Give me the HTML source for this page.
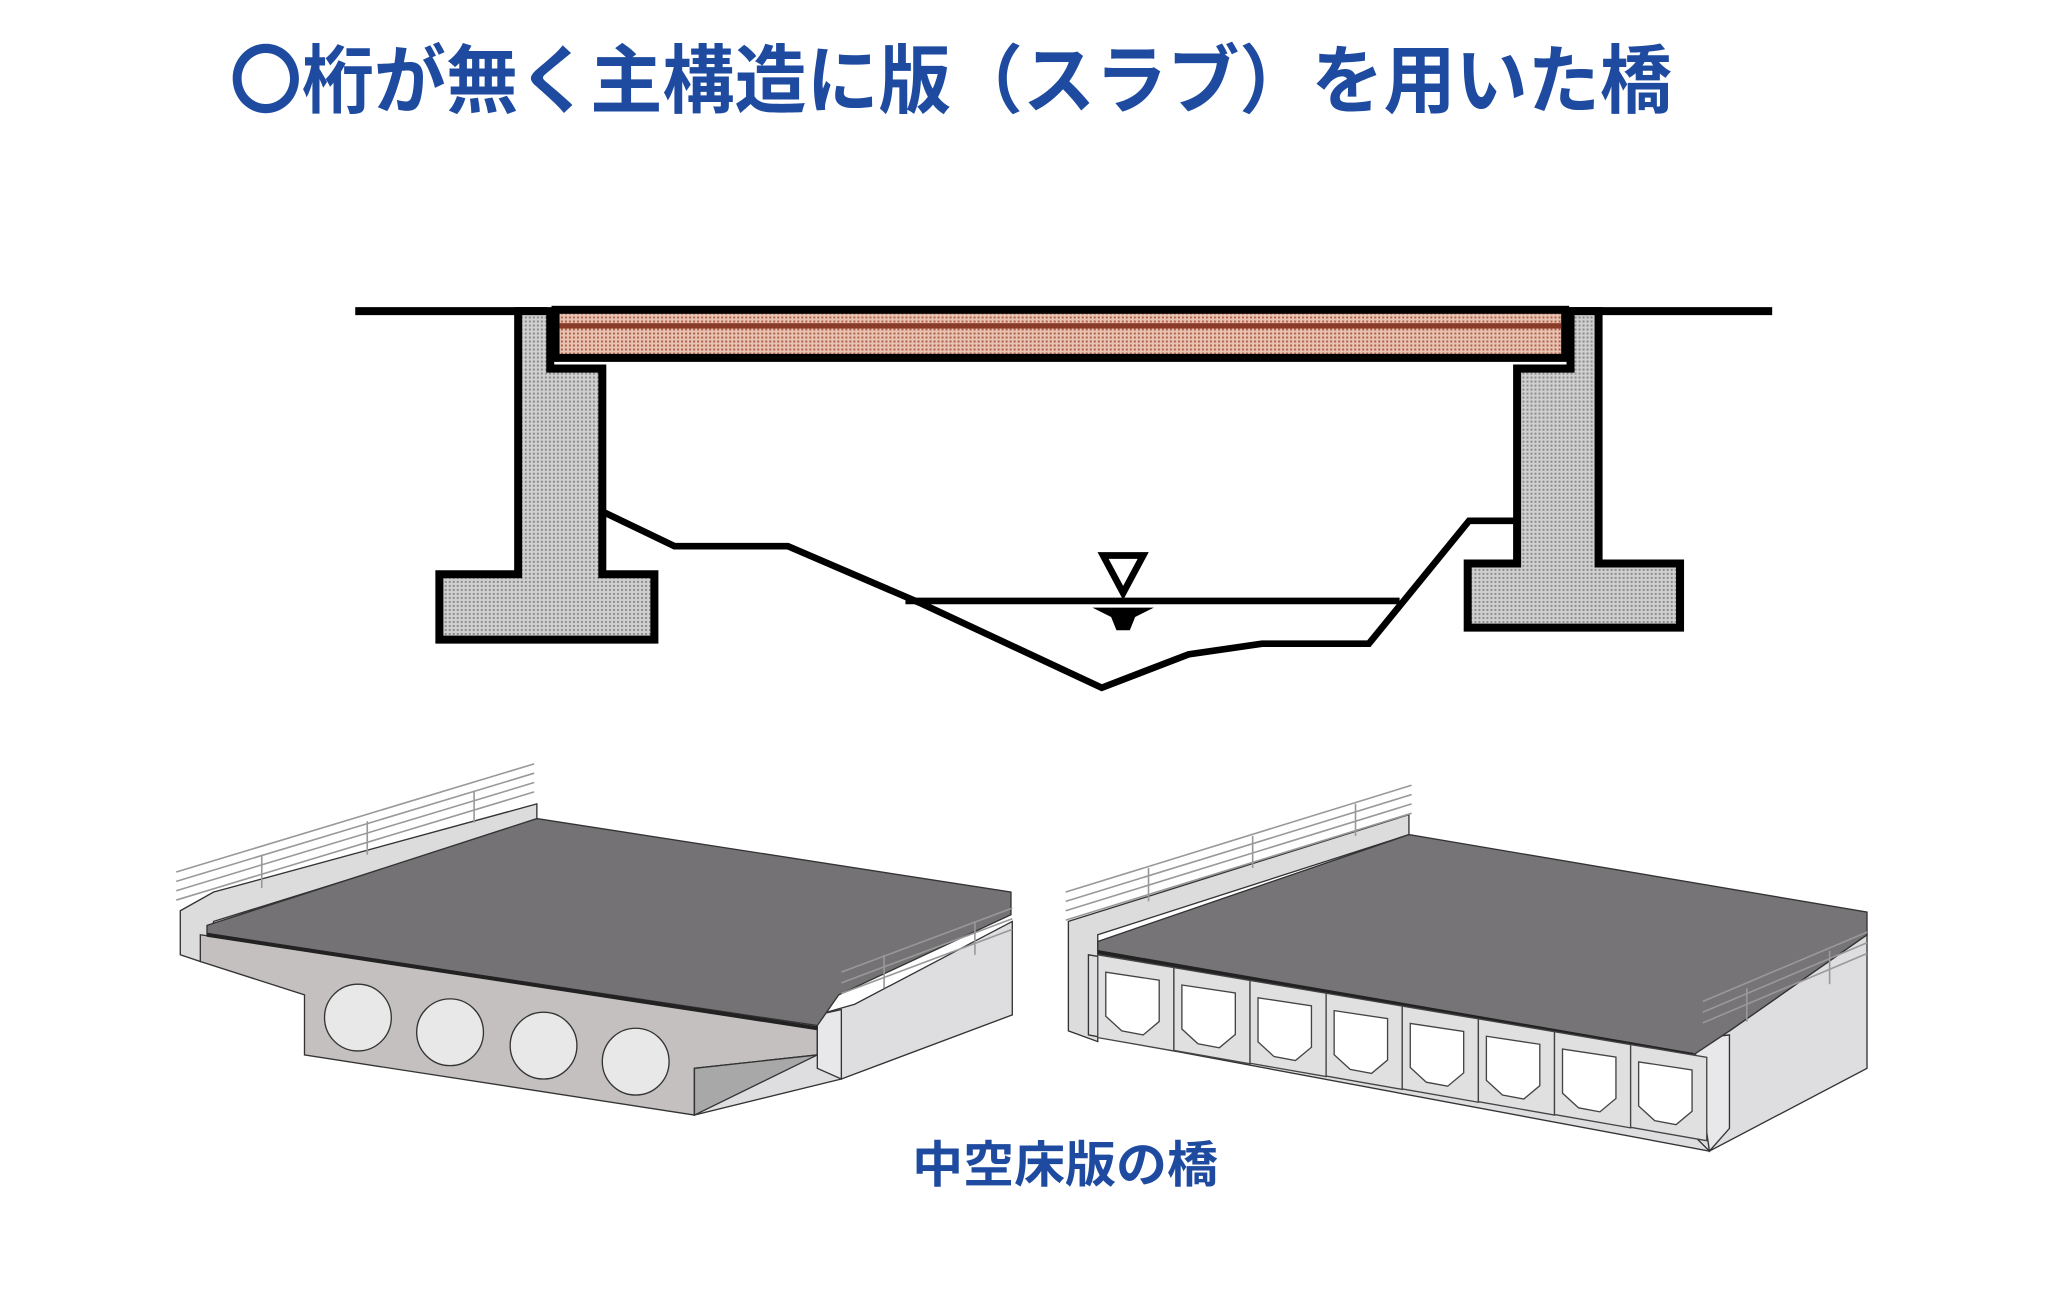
<!DOCTYPE html>
<html><head><meta charset="utf-8"><style>
html,body{margin:0;padding:0;background:#fff;}
svg{display:block;}
</style></head><body>
<svg width="2070" height="1298" viewBox="0 0 1550 972" preserveAspectRatio="none" xmlns="http://www.w3.org/2000/svg">
<defs>
<pattern id="dots" width="3" height="3" patternUnits="userSpaceOnUse"><rect width="3" height="3" fill="#d0d0d0"/><rect width="1.5" height="1.5" fill="#8a8a8a"/></pattern>
<pattern id="brn" width="3" height="3" patternUnits="userSpaceOnUse"><rect width="3" height="3" fill="#e8c4b4"/><rect width="1.5" height="1.5" fill="#b06048"/></pattern>
</defs>
<text x="172" y="80" textLength="1080" lengthAdjust="spacingAndGlyphs" font-weight="bold" font-family="'Liberation Sans','Noto Sans CJK JP',sans-serif" font-size="56" fill="#1e4ba0">〇桁が無く主構造に版（スラブ）を用いた橋</text>

<line x1="266" y1="233" x2="410" y2="233" stroke="#000" stroke-width="6"/>
<line x1="1176" y1="233" x2="1327" y2="233" stroke="#000" stroke-width="6"/>
<rect x="416" y="232" width="756" height="36" fill="url(#brn)" stroke="#000" stroke-width="6"/>
<rect x="419" y="242" width="750" height="4" fill="#8a3a28"/>
<polygon points="388,233 412,233 412,276 451,276 451,430 490,430 490,479 329,479 329,430 388,430" fill="url(#dots)" stroke="#000" stroke-width="6"/>
<polygon points="1197,233 1176,233 1176,276 1136,276 1136,422 1099,422 1099,470 1258,470 1258,422 1197,422" fill="url(#dots)" stroke="#000" stroke-width="6"/>
<polyline points="451,383 505,409 590,409 690,452 825,515 890,490 945,482 1025,482 1100,390 1136,390" fill="none" stroke="#000" stroke-width="5"/>
<line x1="678" y1="450" x2="1048" y2="450" stroke="#000" stroke-width="5"/>
<polygon points="826,416 856,416 841,444" fill="#fff" stroke="#000" stroke-width="5"/>
<polygon points="818,455 864,455 850,462 846,472 836,472 832,462" fill="#000"/>

<!-- LEFT BRIDGE -->
<g stroke="#333" stroke-width="1">
<polygon points="135,682 160,668 402,602 402,615 160,690 150,720 135,715" fill="#dcdcdc"/>
<polygon points="150,700 612,770 612,790 520,800 520,835 228,790 228,745 150,720" fill="#c4c0c0"/>
<polygon points="612,760 640,752 758,690 758,760 630,808 520,835 520,800 612,790" fill="#dedddf"/>
<polygon points="612,760 630,756 630,808 612,800" fill="#e8e8ea"/>
<polygon points="520,800 612,790 520,835" fill="#a8a8a8"/>
<polygon points="155,693 402,613 757,668 757,685 628,745 612,768 155,700" fill="#747275"/>
<line x1="155" y1="700" x2="612" y2="770" stroke="#222" stroke-width="3"/>
<circle cx="268" cy="762" r="25" fill="#e8e8e8"/>
<circle cx="337" cy="773" r="25" fill="#e8e8e8"/>
<circle cx="407" cy="783" r="25" fill="#e8e8e8"/>
<circle cx="476" cy="795" r="25" fill="#e8e8e8"/>
</g>
<g stroke="#999" stroke-width="1.2" fill="none">
<line x1="132" y1="653" x2="400" y2="572"/><line x1="132" y1="660" x2="400" y2="579"/>
<line x1="132" y1="667" x2="400" y2="586"/><line x1="132" y1="674" x2="400" y2="593"/>
<line x1="196" y1="640" x2="196" y2="665"/><line x1="275" y1="615" x2="275" y2="640"/><line x1="355" y1="592" x2="355" y2="616"/>
<line x1="630" y1="728" x2="758" y2="680"/><line x1="630" y1="736" x2="758" y2="688"/><line x1="630" y1="744" x2="758" y2="696"/>
<line x1="662" y1="715" x2="662" y2="740"/><line x1="730" y1="690" x2="730" y2="715"/>
</g>

<!-- RIGHT BRIDGE -->
<g stroke="#333" stroke-width="1">
<polygon points="800,690 1055,610 1055,625 822,700 822,780 800,772" fill="#dcdcdc"/>
<polygon points="815,715 1268,790 1280,862 815,775" fill="#dedddf"/>
<polygon points="1268,775 1295,772 1398,700 1398,800 1280,862 1268,850" fill="#dedddf"/>
<polygon points="1268,778 1295,775 1295,845 1280,862" fill="#e8e8ea"/>
<polygon points="822,705 1055,625 1398,683 1398,700 1295,772 1268,790 822,712" fill="#767477"/>
<line x1="822" y1="713" x2="1268" y2="790" stroke="#222" stroke-width="3"/>
</g>
<g stroke="#444" stroke-width="1" fill="#e0e0e0">
<g transform="translate(822,715)"><polygon points="0,0 57,9.6 57,72 0,62"/><polygon points="6,13 46,19 46,50 34,60 18,57 6,46" fill="#fff"/></g>
<g transform="translate(879,724.6)"><polygon points="0,0 57,9.6 57,72 0,62"/><polygon points="6,13 46,19 46,50 34,60 18,57 6,46" fill="#fff"/></g>
<g transform="translate(936,734.2)"><polygon points="0,0 57,9.6 57,72 0,62"/><polygon points="6,13 46,19 46,50 34,60 18,57 6,46" fill="#fff"/></g>
<g transform="translate(993,743.8)"><polygon points="0,0 57,9.6 57,72 0,62"/><polygon points="6,13 46,19 46,50 34,60 18,57 6,46" fill="#fff"/></g>
<g transform="translate(1050,753.4)"><polygon points="0,0 57,9.6 57,72 0,62"/><polygon points="6,13 46,19 46,50 34,60 18,57 6,46" fill="#fff"/></g>
<g transform="translate(1107,763)"><polygon points="0,0 57,9.6 57,72 0,62"/><polygon points="6,13 46,19 46,50 34,60 18,57 6,46" fill="#fff"/></g>
<g transform="translate(1164,772.6)"><polygon points="0,0 57,9.6 57,72 0,62"/><polygon points="6,13 46,19 46,50 34,60 18,57 6,46" fill="#fff"/></g>
<g transform="translate(1221,782.2)"><polygon points="0,0 57,9.6 57,72 0,62"/><polygon points="6,13 46,19 46,50 34,60 18,57 6,46" fill="#fff"/></g>
</g>
<g stroke="#999" stroke-width="1.2" fill="none">
<line x1="798" y1="668" x2="1057" y2="588"/><line x1="798" y1="675" x2="1057" y2="595"/>
<line x1="798" y1="682" x2="1057" y2="602"/><line x1="798" y1="689" x2="1057" y2="609"/>
<line x1="860" y1="650" x2="860" y2="675"/><line x1="938" y1="626" x2="938" y2="650"/><line x1="1015" y1="602" x2="1015" y2="626"/>
<line x1="1275" y1="750" x2="1398" y2="698"/><line x1="1275" y1="758" x2="1398" y2="706"/><line x1="1275" y1="766" x2="1398" y2="714"/>
<line x1="1308" y1="740" x2="1308" y2="765"/><line x1="1370" y1="712" x2="1370" y2="737"/>
</g>

<text x="683" y="885" textLength="229" lengthAdjust="spacingAndGlyphs" font-weight="bold" font-family="'Liberation Sans','Noto Sans CJK JP',sans-serif" font-size="37" fill="#1e4ba0">中空床版の橋</text>
</svg>
</body></html>
